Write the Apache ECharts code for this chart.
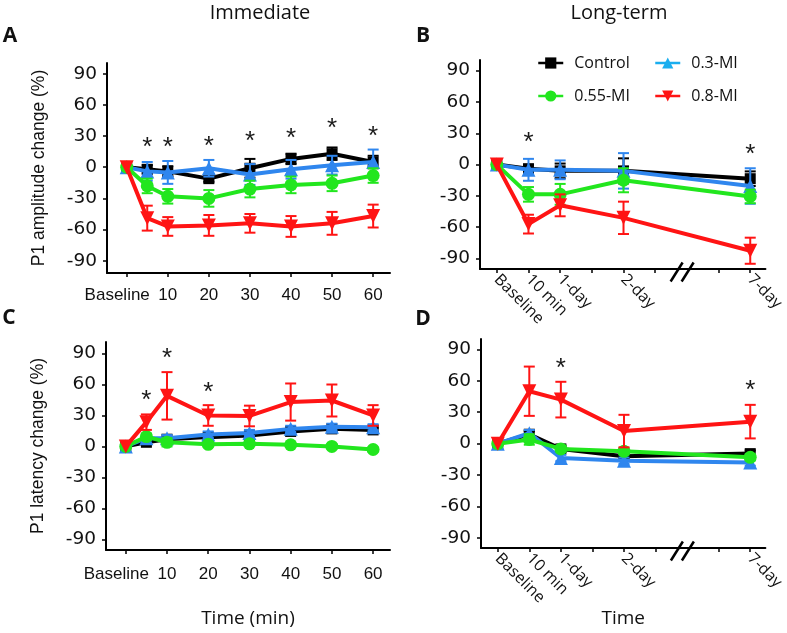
<!DOCTYPE html>
<html><head><meta charset="utf-8">
<script src="https://cdn.jsdelivr.net/npm/echarts@6/dist/echarts.min.js"></script>
<style>html,body{margin:0;padding:0;background:#fff}#c{width:787px;height:633px}</style>
</head><body><div id="c"></div>
<script>
// ---------------- DATA ----------------
const seriesNames = ['Control', '0.3-MI', '0.55-MI', '0.8-MI'];

// Immediate (x in minutes, Baseline = 0)
const timesImm = [0, 5, 10, 20, 30, 40, 50, 60];
const tickTimesImm = [0, 10, 20, 30, 40, 50, 60];

// Long-term (category positions on a broken axis)
const posLong = [0, 1, 2, 4, 8];
const labelsLong = ['Baseline', '10 min', '1-day', '2-day', '7-day'];
const tickPosLong = [0, 1, 2, 3, 4, 5, 7, 8];
const axisBreakAt = 5.85;

const yTicks = [-90, -60, -30, 0, 30, 60, 90];

// Panel A: P1 amplitude change, immediate
const ampImmControl = [0, -2, -4, -11, -1, 8, 13, 5];
const ampImmControlErr = [0, 4, 5, 3, 9, 5, 6, 6];
const ampImm03 = [0, -4, -5, -1, -7, -2, 2, 5];
const ampImm03Err = [0, 9, 11, 8, 10, 9, 9, 12];
const ampImm055 = [0, -18, -28, -30, -21, -17, -15.5, -8];
const ampImm055Err = [0, 7, 7, 8, 8, 8, 7.5, 7];
const ampImm08 = [0, -49, -57, -56, -54, -57, -54, -47];
const ampImm08Err = [0, 12, 9, 10, 9, 10, 11, 11];
const starsAmpImmX = [5, 10, 20, 30, 40, 50, 60];
const starsAmpImmY = [24, 24, 25, 30, 33, 43, 35];

// Panel B: P1 amplitude change, long-term
const ampLongControl = [0, -4, -6, -6, -13.5];
const ampLongControlErr = [0, 4, 7, 12, 7];
const ampLong03 = [0, -5, -5, -6, -20.5];
const ampLong03Err = [0, 10.5, 9, 17, 17];
const ampLong055 = [0, -28.5, -28.5, -15, -30.5];
const ampLong055Err = [0, 7, 10, 11.5, 6.5];
const ampLong08 = [0, -57, -39, -51, -82.5];
const ampLong08Err = [0, 9, 10.5, 15.5, 12.5];
const starsAmpLongX = [1, 8];
const starsAmpLongY = [27, 15];

// Panel C: P1 latency change, immediate
const latImmControl = [0, 4, 7, 9, 10.5, 14.5, 17, 16];
const latImmControlErr = [0, 2, 2, 2, 2, 2, 2, 2];
const latImm03 = [0, 8, 8, 11.5, 13, 17, 19, 18.5];
const latImm03Err = [0, 2, 3, 3, 3, 3, 3, 3];
const latImm055 = [0, 9.5, 4, 2, 2.5, 1.5, 0, -3];
const latImm055Err = [0, 3, 4, 2, 2, 2, 2, 2];
const latImm08 = [0, 23.5, 49, 30, 29.5, 43, 44.5, 30];
const latImm08Err = [0, 7.5, 23, 10, 10, 18, 15.5, 10];
const starsLatImmX = [5, 10, 20];
const starsLatImmY = [50, 91, 58];

// Panel D: P1 latency change, long-term
const latLongControl = [0, 9, -5, -12, -9.5];
const latLongControlErr = [0, 3, 3, 3, 3];
const latLong03 = [0, 10, -13.7, -16.3, -18];
const latLong03Err = [0, 3, 3, 3, 3];
const latLong055 = [0, 4, -5, -7.3, -13];
const latLong055Err = [0, 5, 3, 3, 3];
const latLong08 = [0, 50, 42, 12, 21];
const latLong08Err = [0, 23.5, 17, 15.5, 16];
const starsLatLongX = [2, 8];
const starsLatLongY = [77, 56];

// ---------------- STYLE ----------------
const ARIAL = '"Liberation Sans", Arial, sans-serif';
const WIDE = '"DejaVu Sans", sans-serif';
const SANS = '"Open Sans", sans-serif';
const styles = {
  'Control': { color: '#000000', symbol: 'rect', size: 11, rotate: 0 },
  '0.3-MI':  { color: '#2F86EE', symbol: 'triangle', size: 14, rotate: 0 },
  '0.55-MI': { color: '#22E61E', symbol: 'circle', size: 13, rotate: 0 },
  '0.8-MI':  { color: '#FF1414', symbol: 'triangle', size: 14, rotate: 180 }
};
const legendColors = { 'Control': '#000000', '0.3-MI': '#1AAEEF', '0.55-MI': '#22E61E', '0.8-MI': '#FF1414' };

const panels = [
  { x: timesImm, vals: [ampImmControl, ampImm03, ampImm055, ampImm08],
    errs: [ampImmControlErr, ampImm03Err, ampImm055Err, ampImm08Err], sx: starsAmpImmX, sy: starsAmpImmY, brk: false },
  { x: posLong, vals: [ampLongControl, ampLong03, ampLong055, ampLong08],
    errs: [ampLongControlErr, ampLong03Err, ampLong055Err, ampLong08Err], sx: starsAmpLongX, sy: starsAmpLongY, brk: true },
  { x: timesImm, vals: [latImmControl, latImm03, latImm055, latImm08],
    errs: [latImmControlErr, latImm03Err, latImm055Err, latImm08Err], sx: starsLatImmX, sy: starsLatImmY, brk: false },
  { x: posLong, vals: [latLongControl, latLong03, latLong055, latLong08],
    errs: [latLongControlErr, latLong03Err, latLong055Err, latLong08Err], sx: starsLatLongX, sy: starsLatLongY, brk: true }
];

const series = [];
panels.forEach((p, pi) => {
  seriesNames.forEach((name, si) => {
    const s = styles[name];
    // error bars
    series.push({
      type: 'custom', xAxisIndex: pi, yAxisIndex: pi, z: 3 + si * 2, clip: false, animation: false,
      encode: { x: 0, y: [1, 2] },
      data: p.x.map((xv, i) => [xv, p.vals[si][i] - p.errs[si][i], p.vals[si][i] + p.errs[si][i]]),
      renderItem: (params, api) => {
        const xv = api.value(0), lo = api.value(1), hi = api.value(2);
        if (hi - lo <= 0.01) return null;
        const t = api.coord([xv, hi]), b = api.coord([xv, lo]);
        const w = 5.5, st = { stroke: s.color, lineWidth: 2 };
        return { type: 'group', children: [
          { type: 'line', shape: { x1: t[0], y1: t[1], x2: b[0], y2: b[1] }, style: st },
          { type: 'line', shape: { x1: t[0] - w, y1: t[1], x2: t[0] + w, y2: t[1] }, style: st },
          { type: 'line', shape: { x1: b[0] - w, y1: b[1], x2: b[0] + w, y2: b[1] }, style: st }
        ]};
      }
    });
    // line + markers
    series.push({
      type: 'line', name: name, xAxisIndex: pi, yAxisIndex: pi, z: 4 + si * 2, animation: false,
      data: p.x.map((xv, i) => [xv, p.vals[si][i]]),
      symbol: s.symbol, symbolSize: s.size, symbolRotate: s.rotate, showAllSymbol: true,
      lineStyle: { color: s.color, width: 4 }, itemStyle: { color: s.color }
    });
  });
  // significance stars
  series.push({
    type: 'custom', xAxisIndex: pi, yAxisIndex: pi, z: 20, clip: false, animation: false,
    data: p.sx.map((xv, i) => [xv, p.sy[i]]),
    renderItem: (params, api) => {
      const pt = api.coord([api.value(0), api.value(1)]);
      return { type: 'text', x: pt[0], y: pt[1] + 6,
        style: { text: '*', font: '26px ' + ARIAL, fill: '#1a1a1a', align: 'center', verticalAlign: 'middle' } };
    }
  });
  if (p.brk) {
    series.push({
      type: 'custom', xAxisIndex: pi, yAxisIndex: pi, z: 20, clip: false, animation: false, silent: true,
      data: [[axisBreakAt, 0]],
      renderItem: (params, api) => {
        const cx = api.coord([api.value(0), 0])[0];
        const ay = params.coordSys.y + params.coordSys.height;
        const mk = dx => ({ type: 'line', shape: { x1: cx + dx - 6, y1: ay + 12.5, x2: cx + dx + 6, y2: ay - 6.5 },
          style: { stroke: '#000', lineWidth: 2.5 } });
        return { type: 'group', children: [mk(-5.5), mk(5.5)] };
      }
    });
  }
});

const grids = [
  { left: 107, top: 63, width: 283, height: 210 },
  { left: 480, top: 60, width: 292, height: 209 },
  { left: 106, top: 342, width: 284, height: 208 },
  { left: 481, top: 339, width: 291, height: 209 }
];
const yRanges = [[-101.8, 100.3], [-100, 100.2], [-100.4, 101.2], [-99.5, 99.8]];

const axisLineStyle = { show: true, onZero: false, lineStyle: { color: '#000', width: 2 } };
const tickStyle = { show: true, inside: false, length: 4, lineStyle: { color: '#000', width: 1.5 } };

function xImm(pi, withName) {
  return {
    type: 'value', gridIndex: pi, min: -4.8, max: 64.1,
    axisLine: axisLineStyle, splitLine: { show: false },
    axisTick: Object.assign({ customValues: tickTimesImm }, tickStyle),
    axisLabel: { customValues: tickTimesImm, margin: pi === 0 ? 14 : 16, fontFamily: ARIAL, fontSize: 17, color: '#111',
      formatter: v => v === 0 ? '{b|Baseline}' : String(v),
      rich: { b: { padding: [0, 19, 0, 0], fontFamily: ARIAL, fontSize: 17, color: '#111' } } },
    name: withName ? 'Time (min)' : '', nameLocation: 'middle', nameGap: 59,
    nameTextStyle: { fontFamily: SANS, fontSize: 19, color: '#111' }
  };
}
function xLong(pi, withName) {
  return {
    type: 'value', gridIndex: pi, min: -0.53, max: 8.48,
    axisLine: axisLineStyle, splitLine: { show: false },
    axisTick: Object.assign({ customValues: tickPosLong }, tickStyle),
    axisLabel: { customValues: posLong, rotate: -45, margin: 8, fontFamily: SANS, fontSize: 16, color: '#111',
      formatter: v => labelsLong[posLong.indexOf(v)] || '' },
    name: withName ? 'Time' : '', nameLocation: 'middle', nameGap: 61,
    nameTextStyle: { fontFamily: SANS, fontSize: 19, color: '#111' }
  };
}
function yAx(pi, name) {
  return {
    type: 'value', gridIndex: pi, min: yRanges[pi][0], max: yRanges[pi][1],
    axisLine: axisLineStyle, splitLine: { show: false },
    axisTick: Object.assign({ customValues: yTicks }, tickStyle),
    axisLabel: { customValues: yTicks, margin: 10, fontFamily: WIDE, fontSize: 18.5, color: '#111' },
    name: name, nameLocation: 'middle', nameGap: 59, nameRotate: 90,
    nameTextStyle: { fontFamily: ARIAL, fontSize: 17.5, color: '#111' }
  };
}

const legendPos = { 'Control': [532, 50], '0.3-MI': [649, 50], '0.55-MI': [532, 83], '0.8-MI': [649, 83] };
const legends = seriesNames.map(n => ({
  data: [{ name: n, itemStyle: { color: legendColors[n] }, lineStyle: { color: legendColors[n], width: 2.5 } }],
  left: legendPos[n][0], top: legendPos[n][1], itemWidth: 25, itemHeight: 14, selectedMode: false,
  textStyle: { fontFamily: SANS, fontSize: 16, color: '#111', padding: [0, 0, 0, 6] }
}));

const texts = [
  { t: 'Immediate', x: 260, y: 13, f: '20px ' + SANS },
  { t: 'Long-term', x: 619, y: 13, f: '20px ' + SANS },
  { t: 'A', x: 10, y: 36, f: 'bold 21px ' + SANS },
  { t: 'B', x: 423, y: 36, f: 'bold 21px ' + SANS },
  { t: 'C', x: 9, y: 318, f: 'bold 21px ' + SANS },
  { t: 'D', x: 423, y: 319, f: 'bold 21px ' + SANS }
];

const option = {
  backgroundColor: '#fff',
  animation: false,
  grid: grids,
  xAxis: [xImm(0, false), xLong(1, false), xImm(2, true), xLong(3, true)],
  yAxis: [yAx(0, 'P1 amplitude change (%)'), yAx(1, ''), yAx(2, 'P1 latency change (%)'), yAx(3, '')],
  legend: legends,
  graphic: texts.map(o => ({ type: 'text', x: o.x, y: o.y,
    style: { text: o.t, font: o.f, fill: '#111', align: 'center', verticalAlign: 'middle' } })),
  series: series
};

const chart = echarts.init(document.getElementById('c'), null, { renderer: 'canvas' });
chart.setOption(option);
</script>
</body></html>
